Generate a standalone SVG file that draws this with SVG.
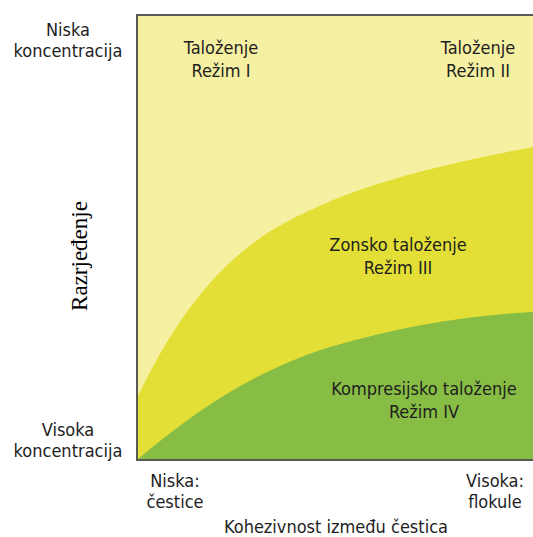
<svg xmlns="http://www.w3.org/2000/svg" width="533" height="537" viewBox="0 0 533 537">
<style>
.t{font-family:"DejaVu Sans Condensed","DejaVu Sans",sans-serif;font-stretch:condensed;font-size:18px;fill:#1e1e1e;text-anchor:middle}
.s{font-family:"Liberation Serif",serif;font-size:23px;fill:#000;text-anchor:middle}
</style>
<rect width="533" height="537" fill="#fff"/>
<g id="plot">
<rect x="137" y="15" width="396" height="445" fill="#F6F0A2"/>
<path d="M137,398 C172,325 212,268 272,230 C340,190 420,168 533,147 L533,460 L137,460 Z" fill="#E4DF36"/>
<path d="M137,460 C190,415 250,372 330,347 C400,326 470,315 533,312 L533,460 Z" fill="#88BD45"/>
<path d="M533,15 L137,15 L137,460 L533,460" fill="none" stroke="#5a5a55" stroke-width="2"/>
</g>
<g id="regime1"><text class="t" x="221" y="54">Taloženje</text><text class="t" x="221" y="77">Režim I</text></g>
<g id="regime2"><text class="t" x="478" y="54">Taloženje</text><text class="t" x="478" y="77">Režim II</text></g>
<g id="regime3"><text class="t" x="398" y="251">Zonsko taloženje</text><text class="t" x="398" y="274">Režim III</text></g>
<g id="regime4"><text class="t" x="424" y="395">Kompresijsko taloženje</text><text class="t" x="424" y="418">Režim IV</text></g>
<g id="yaxis">
<text class="t" x="68" y="36">Niska</text><text class="t" x="68" y="57">koncentracija</text>
<text class="t" x="68" y="436">Visoka</text><text class="t" x="68" y="457">koncentracija</text>
<text class="s" transform="translate(87,256) rotate(-90)">Razrjeđenje</text>
</g>
<g id="xaxis">
<text class="t" x="175" y="487">Niska:</text><text class="t" x="175" y="508">čestice</text>
<text class="t" x="495" y="487">Visoka:</text><text class="t" x="495" y="508">flokule</text>
<text class="t" x="336" y="533">Kohezivnost između čestica</text>
</g>
</svg>
